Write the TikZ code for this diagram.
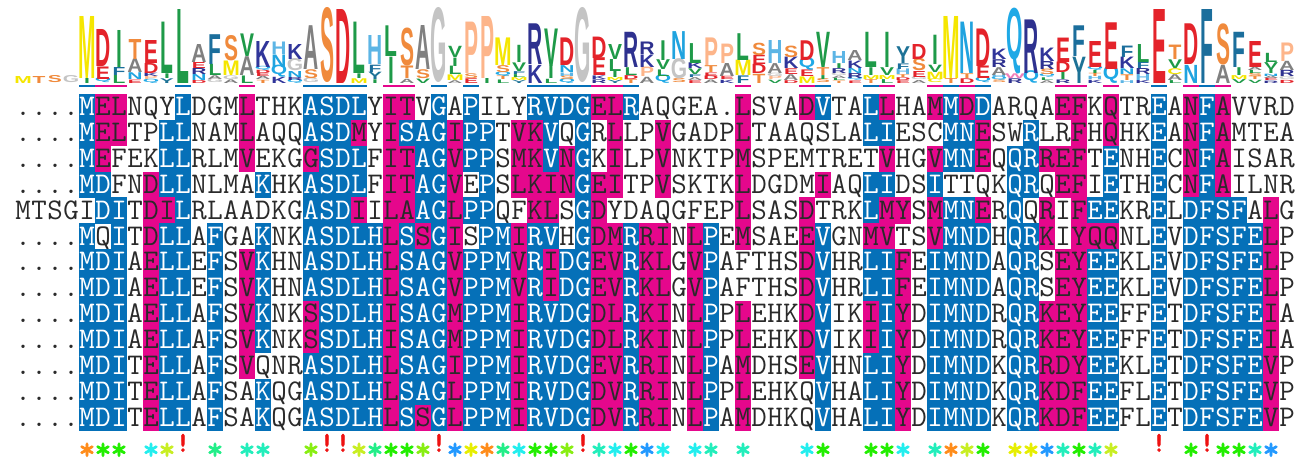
\documentclass[tikz,border=0pt]{standalone}
\usepackage{fontspec}
\usepackage{xstring}
\usepackage{graphicx}
\newfontfamily\logofont{Liberation Sans}
\newfontfamily\symfont{lmmono10-regular.otf}[FakeBold=2]
\newfontfamily\exfont{lmmono10-regular.otf}[FakeBold=2.5]
\definecolor{cblue}{HTML}{0570B8}
\definecolor{cmag}{HTML}{E5078C}
\definecolor{tdark}{HTML}{2A2A2A}
% logo letter colours
\definecolor{lcA}{HTML}{808080}
\definecolor{lcC}{HTML}{EFE000}
\definecolor{lcD}{HTML}{E4232A}
\definecolor{lcE}{HTML}{E4232A}
\definecolor{lcF}{HTML}{1B6E9C}
\definecolor{lcG}{HTML}{C4C4C4}
\definecolor{lcH}{HTML}{5CB5E5}
\definecolor{lcI}{HTML}{1E9A48}
\definecolor{lcL}{HTML}{1E9A48}
\definecolor{lcV}{HTML}{1E9A48}
\definecolor{lcK}{HTML}{30359A}
\definecolor{lcR}{HTML}{2E318F}
\definecolor{lcM}{HTML}{F5E600}
\definecolor{lcN}{HTML}{1FA3DF}
\definecolor{lcQ}{HTML}{1FA9E6}
\definecolor{lcP}{HTML}{FDB58A}
\definecolor{lcS}{HTML}{F08A3C}
\definecolor{lcT}{HTML}{F08A3C}
\definecolor{lcW}{HTML}{F07EB8}
\definecolor{lcY}{HTML}{1D7296}
% symbol colours
\definecolor{sOr}{HTML}{FF8C1A}
\definecolor{sGr}{HTML}{22EE00}
\definecolor{sCy}{HTML}{22EEEE}
\definecolor{sYg}{HTML}{C8EE22}
\definecolor{sSg}{HTML}{22EE88}
\definecolor{sAq}{HTML}{22EEBB}
\definecolor{sLg}{HTML}{88EE11}
\definecolor{sYe}{HTML}{E6EE00}
\definecolor{sBl}{HTML}{2299FF}
\definecolor{sRd}{HTML}{EE1111}

% sequences and colour codes
\def\sA{....MELNQYLDGMLTHKASDLYITVGAPILYRVDGELRAQGEA.LSVADVTALLHAMMDDARQAEFKQTREANFAVVRD}
\def\cA{WWWWBMMWWWBWWWMWWWBBBBWMMWBWBWWWBBBBMMBWWWWWWMWWWMBWWBMWWMBMBWWWWMMWMWWBWMBMWWWW}
\def\sB{....MELTPLLNAMLAQQASDMYISAGIPPTVKVQGRLLPVGADPLTAAQSLALIESCMNESWRLRFHQHKEANFAMTEA}
\def\cB{WWWWBMMWWBBWWWMWWWBBBMWMBBBMBBWMMBWBWMWWMWWWWMWWWWWWWBBWWWBBMWWBWWMWMWWBWMBMWWWW}
\def\sC{....MEFEKLLRLMVEKGGSDLFITAGVPPSMKVNGKILPVNKTPMSPEMTRETVHGVMNEQQRREFTENHECNFAISAR}
\def\cC{WWWWBMWWWBBWWWMWWWMBBBWMMBBMBBWMMBMBWMWWMWWWWMWWWWWWWWMWWMBBMWBBMMMWBWWBWMBMWWWW}
\def\sD{....MDFNDLLNLMAKHKASDLFITAGVEPSLKINGEITPVSKTKLDGDMIAQLIDSITTQKQRQEFIETHECNFAILNR}
\def\cD{WWWWBBWWMBBWWWWBWWBBBBWMMBBMWBWMMMMBMMWWMWWWWMWWWWMWWBBWWBWWWWBBWMMWBWWBWMBMWWWW}
\def\sE{MTSGIDITDILRLAADKGASDIILAAGLPPQFKLSGDYDAQGFEPLSASDTRKLMYSMMNERQQRIFEEKRELDFSFALG}
\def\cE{WWWWWBBWMMBWWWWWWWBBBMWMMBBMBBWWMMWBMWWWWWWWWMWWWMWWWBMMWMBBMWBWMWMBBWWBWBBBBWMW}
\def\sF{....MQITDLLAFGAKNKASDLHLSSGISPMIRVHGDMRRINLPEMSAEEVGNMVTSVMNDHQRKIYQQNLEVDFSFELP}
\def\cF{WWWWBWBWMBBWBWWBWWBBBBBMBMBMWBBMBBWBMMBMMWMBWMWWWMBWWMMWWMBBBWBBMWMMMWWBWBBBBBMW}
\def\sG{....MDIAELLEFSVKHNASDLHLSAGVPPMVRIDGEVRKLGVPAFTHSDVHRLIFEIMNDAQRSEYEEKLEVDFSFELP}
\def\cG{WWWWBBBWMBBWBWMBWWBBBBBMBBBMBBBMBMBBMMBMMWMBWWWWWMBWWBBMWBBBBWBBWMMBBWWBWBBBBBMW}
\def\sI{....MDIAELLAFSVKNKSSDLHISAGMPPMIRVDGDLRKINLPPLEHKDVIKIIYDIMNDRQRKEYEEFFETDFSFEIA}
\def\cI{WWWWBBBWMBBWBWMBWWMBBBBMBBBMBBBMBBBBMMBMMWMBWMWWWMBWWMBMWBBBBWBBMMMBBWWBWBBBBBMW}
\def\sK{....MDITELLAFSVQNRASDLHLSAGIPPMIRVDGEVRRINLPAMDHSEVHNLIYDIMNDKQRRDYEEKLETDFSFEVP}
\def\cK{WWWWBBBWMBBWBWMWWWBBBBBMBBBMBBBMBBBBMMBMMWMBWMWWWMBWWBBMWBBBBWBBMMMBBWWBWBBBBBMW}
\def\sL{....MDITELLAFSAKQGASDLHLSAGLPPMIRVDGDVRRINLPPLEHKQVHALIYDIMNDKQRKDFEEFLETDFSFEVP}
\def\cL{WWWWBBBWMBBWBWWBWWBBBBBMBBBMBBBMBBBBMMBMMWMBWMWWWWBWWBBMWBBBBWBBMMMBBWWBWBBBBBMW}
\def\sM{....MDITELLAFSAKQGASDLHLSSGLPPMIRVDGDVRRINLPAMDHKQVHALIYDIMNDKQRKDFEEFLETDFSFEVP}
\def\cM{WWWWBBBWMBBWBWWBWWBBBBBMBMBMBBBMBBBBMMBMMWMBWMWWWWBWWBBMWBBBBWBBMMMBBWWBWBBBBBMW}

\newcommand\seqrow[3]{%
  \foreach \i in {1,...,80}{%
    \StrChar{#2}{\i}[\ch]%
    \StrChar{#3}{\i}[\cc]%
    \pgfmathsetmacro\xl{15+16*(\i-1)}%
    \pgfmathsetmacro\yt{94+25.9*#1}%
    \IfStrEq{\cc}{B}{\def\tc{white}\fill[cblue] (\xl-0.2,\yt-0.2) rectangle ++(16.4,26.3);}{%
      \IfStrEq{\cc}{M}{\def\tc{tdark}\fill[cmag] (\xl-0.2,\yt-0.2) rectangle ++(16.4,26.3);}{\def\tc{tdark}}}%
    \node[cell, text=\tc] (r#1c\i) at (\xl+8,\yt+21.5) {\ch};
  }}

\newcommand\logocol[2]{%
  \pgfmathsetmacro\lx{23+16*#1}%
  \xdef\ly{83}%
  \foreach \ch/\hh in {#2}{%
    \node[logo, text=lc\ch] at (\lx,\ly) {\resizebox{\width}{\hh pt}{\fontsize{21}{21}\selectfont\logofont\bfseries \ch}};
    \pgfmathsetmacro\nly{\ly-\hh}\xdef\ly{\nly}%
  }}

\begin{document}
\begin{tikzpicture}[x=1pt,y=-1pt,
  cell/.style={inner sep=0pt, outer sep=0pt, anchor=base, font=\fontsize{30}{30}\selectfont\ttfamily},
  logo/.style={inner sep=0pt, outer sep=0pt, anchor=south},
  sym/.style={inner sep=0pt, outer sep=0pt, anchor=base, font=\fontsize{32}{32}\selectfont\symfont},
  exc/.style={inner sep=0pt, outer sep=0pt, anchor=base, font=\fontsize{28}{28}\selectfont\exfont}]
\useasboundingbox (0,0) rectangle (1311,458);
\fill[white] (0,0) rectangle (1311,458);

% ---------- alignment ----------
\seqrow{0}{\sA}{\cA}
\seqrow{1}{\sB}{\cB}
\seqrow{2}{\sC}{\cC}
\seqrow{3}{\sD}{\cD}
\seqrow{4}{\sE}{\cE}
\seqrow{5}{\sF}{\cF}
\seqrow{6}{\sG}{\cG}
\seqrow{7}{\sG}{\cG}
\seqrow{8}{\sI}{\cI}
\seqrow{9}{\sI}{\cI}
\seqrow{10}{\sK}{\cK}
\seqrow{11}{\sL}{\cL}
\seqrow{12}{\sM}{\cM}

% ---------- logo ----------
\logocol{0}{M/7}
\logocol{1}{T/7}
\logocol{2}{S/7}
\logocol{3}{G/7}
\logocol{4}{I/5,M/62}
\logocol{5}{Q/4,E/12.5,D/37}
\logocol{6}{L/8,F/8,I/37}
\logocol{7}{E/3.4,N/6.8,A/13.5,T/20}
\logocol{8}{Q/3.3,P/3.3,K/3.3,D/10,E/23}
\logocol{9}{Y/4.7,I/4.7,L/51.4}
\logocol{10}{L/74}
\logocol{11}{D/3,N/6,R/6,E/6,A/18}
\logocol{12}{G/3.7,A/3.7,L/11.2,F/29.8}
\logocol{13}{A/3.6,G/3.6,M/14.5,S/25}
\logocol{14}{L/7.5,A/18.8,V/22.6}
\logocol{15}{T/3.2,A/3.2,E/3.2,D/3.2,Q/3.2,K/26}
\logocol{16}{K/6.2,Q/9.4,N/12.5,H/12.5}
\logocol{17}{Q/3,R/3,N/6,G/12,K/15}
\logocol{18}{G/4.4,S/8.8,A/43.8}
\logocol{19}{S/74}
\logocol{20}{D/74}
\logocol{21}{M/4.7,I/4.7,L/51.4}
\logocol{22}{I/3.7,Y/7.3,F/7.3,H/29}
\logocol{23}{I/26.3,L/30.7}
\logocol{24}{A/4.2,T/12.5,S/37.5}
\logocol{25}{V/4.4,S/8.8,A/44}
\logocol{26}{G/74}
\logocol{27}{A/2.8,M/5.6,L/8.4,I/8.4,V/11.2}
\logocol{28}{E/4.7,S/4.7,P/51.4}
\logocol{29}{I/5,P/62}
\logocol{30}{L/3.5,T/3.5,Q/3.5,S/6.9,M/27.6}
\logocol{31}{Y/2.9,M/2.9,L/2.9,F/2.9,V/8.6,I/17.2}
\logocol{32}{K/18.1,R/40.7}
\logocol{33}{L/4.2,I/12.5,V/37.5}
\logocol{34}{Q/3.5,S/3.5,H/3.5,N/6.9,D/27.6}
\logocol{35}{G/74}
\logocol{36}{R/3.6,K/3.6,E/17.8,D/21.4}
\logocol{37}{Y/3,M/3,I/6,L/12,V/15}
\logocol{38}{T/3.9,D/3.9,L/7.8,R/35.2}
\logocol{39}{A/6.2,P/9.4,K/12.5,R/12.5}
\logocol{40}{Q/6.6,L/6.6,V/9.8,I/19.7}
\logocol{41}{S/4,G/19.9,N/27.9}
\logocol{42}{E/2.8,A/2.8,F/2.8,V/5.7,K/5.7,L/19.9}
\logocol{43}{A/3.5,D/3.5,E/3.5,T/6.9,P/27.6}
\logocol{44}{K/3.2,E/3.2,A/13,P/19.4}
\logocol{45}{F/7.6,M/15.3,L/26.8}
\logocol{46}{T/9.2,D/9.2,E/9.2,S/12.3}
\logocol{47}{V/3.3,P/3.3,G/3.3,A/9.9,H/23}
\logocol{48}{D/2.8,A/5.7,E/5.7,K/11.4,S/11.4}
\logocol{49}{M/6.6,E/6.6,Q/9.8,D/19.7}
\logocol{50}{S/3.9,I/3.9,T/7.8,V/35.2}
\logocol{51}{T/2.4,L/2.4,A/2.4,G/2.4,R/4.8,I/4.8,H/12}
\logocol{52}{E/2.5,Q/2.5,R/5,N/5,K/7.5,A/10}
\logocol{53}{T/3.9,M/3.9,I/7.8,L/35.2}
\logocol{54}{L/3.9,M/3.9,V/7.8,I/35.2}
\logocol{55}{E/2.8,D/2.8,T/2.8,H/5.6,F/5.6,Y/16.8}
\logocol{56}{A/3,G/3,E/6,S/12,D/15}
\logocol{57}{C/3.7,M/7.3,V/7.3,I/29.3}
\logocol{58}{T/5,M/62}
\logocol{59}{D/4.7,T/4.7,N/51.4}
\logocol{60}{Q/4.2,E/12.5,D/37.5}
\logocol{61}{S/2.6,Q/2.6,H/2.6,A/7.8,R/7.8,K/10.4}
\logocol{62}{R/4.7,W/4.7,Q/51.4}
\logocol{63}{Q/9.8,R/53.6}
\logocol{64}{A/2.7,L/2.7,Q/2.7,S/5.4,R/8,K/13.4}
\logocol{65}{R/3.5,I/7,D/10.5,E/24.4}
\logocol{66}{Y/26.3,F/30.7}
\logocol{67}{K/3.2,H/3.2,T/3.2,I/3.2,Q/3.2,E/26}
\logocol{68}{Q/14,E/46.7}
\logocol{69}{H/2.8,T/5.7,N/5.7,K/11.4,F/11.4}
\logocol{70}{K/3,H/6,R/6,F/6,L/18}
\logocol{71}{E/74}
\logocol{72}{L/2.9,A/5.8,C/5.8,V/8.7,T/14.4}
\logocol{73}{N/18.1,D/40.7}
\logocol{74}{F/74}
\logocol{75}{A/18.1,S/40.7}
\logocol{76}{V/3.9,M/3.9,I/7.8,F/35.2}
\logocol{77}{V/3.2,T/3.2,S/3.2,L/3.2,A/3.2,E/26}
\logocol{78}{R/2.3,E/2.3,A/2.3,N/2.3,I/4.6,V/6.9,L/9.2}
\logocol{79}{D/3.1,G/3.1,R/6.2,A/9.2,P/18.5}

% ---------- bars under logo ----------
\foreach \a/\b in {4/4,10/10,18/21,26/26,28/28,32/35,38/38,50/50,53/53,58/58,60/60,71/71,74/74}
  \fill[cblue] (15+16*\a,84.5) rectangle (31+16*\b,86.5);
\foreach \a/\b in {5/6,14/14,23/24,36/37,45/45,49/49,54/54,57/57,59/59,65/66,68/68,73/73,75/75}
  \fill[cmag] (15+16*\a,84.5) rectangle (31+16*\b,86.5);

% ---------- consensus symbols ----------
\foreach \c/\col in {4/sOr,5/sGr,6/sGr,8/sCy,9/sYg,12/sSg,14/sAq,15/sAq,18/sLg,21/sYg,22/sSg,23/sGr,24/sGr,25/sLg,27/sBl,28/sYe,29/sOr,30/sSg,31/sCy,32/sGr,33/sGr,34/sLg,36/sAq,37/sCy,38/sGr,39/sBl,40/sCy,42/sCy,43/sAq,45/sAq,49/sCy,50/sGr,53/sGr,54/sGr,55/sCy,57/sAq,58/sOr,59/sYg,60/sGr,62/sYe,63/sYe,64/sBl,65/sAq,66/sGr,67/sAq,68/sYg,73/sGr,75/sGr,76/sGr,77/sAq,78/sBl}
  \node[sym, text=\col] (st\c) at (23+16*\c,459.5) {*};
\foreach \c in {10,19,20,26,35,71,74}
  \node[exc, text=sRd] (ex\c) at (23+16*\c,451.5) {!};
\end{tikzpicture}
\end{document}
